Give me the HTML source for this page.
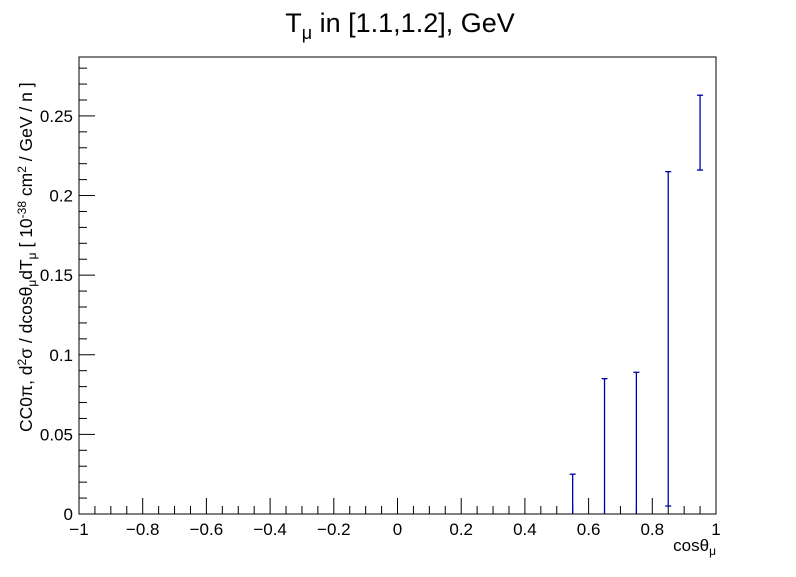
<!DOCTYPE html>
<html><head><meta charset="utf-8"><style>
body{margin:0;background:#fff;}
svg text{font-family:"Liberation Sans",Arial,sans-serif;fill:#000;}
</style></head><body>
<svg id="c" width="796" height="572" xmlns="http://www.w3.org/2000/svg">
<text x="400" y="32" font-size="27" text-anchor="middle">T<tspan font-size="18" dy="7">μ</tspan><tspan dy="-7"> in [1.1,1.2], GeV</tspan></text>
<rect x="79" y="57" width="637" height="457" fill="none" stroke="#000" stroke-width="1"/>
<g id="ax"></g>
<g id="marks"></g>
<text x="716" y="551" font-size="17" text-anchor="end">cosθ<tspan font-size="12" dy="4">μ</tspan></text>
<text transform="translate(32,432) rotate(-90)" font-size="17.5">CC0π, d<tspan font-size="12" dy="-6">2</tspan><tspan dy="6">σ / dcosθ</tspan><tspan font-size="12" dy="4">μ</tspan><tspan dy="-4">dT</tspan><tspan font-size="12" dy="4">μ</tspan><tspan dy="-4"> [ 10</tspan><tspan font-size="12" dy="-6">-38</tspan><tspan dy="6"> cm</tspan><tspan font-size="12" dy="-6">2</tspan><tspan dy="6"> / GeV / n ]</tspan></text>
</svg>
<script>
const binCenters=[0.55,0.65,0.75,0.85,0.95];
const lowValues=[0,0,0,0.005,0.216];
const highValues=[0.025,0.085,0.089,0.215,0.263];
const xTickLabels=["−1","−0.8","−0.6","−0.4","−0.2","0","0.2","0.4","0.6","0.8","1"];
const yTickLabels=["0","0.05","0.1","0.15","0.2","0.25"];
const X0=79,X1=716,Y0=514,Y1=57,XMIN=-1,XMAX=1,YMIN=0,YMAX=0.287;
const sx=v=>X0+(v-XMIN)/(XMAX-XMIN)*(X1-X0);
const sy=v=>Y0-(v-YMIN)/(YMAX-YMIN)*(Y0-Y1);
const NS="http://www.w3.org/2000/svg";
const ax=document.getElementById('ax'),mk=document.getElementById('marks');
function mk_(tag,at,p){const e=document.createElementNS(NS,tag);for(const k in at)e.setAttribute(k,at[k]);p.appendChild(e);return e;}
for(let i=0;i<=40;i++){const v=-1+i*0.05;const x=sx(v);const len=(i%4===0)?16:8;
 const t=mk_('line',{x1:x,x2:x,y1:Y0,y2:Y0-len,stroke:'#000'},ax);
 
 }
xTickLabels.forEach((l,i)=>{const v=-1+i*0.2;const t=mk_('text',{x:sx(v),y:Y0+21,'font-size':17,'text-anchor':'middle'},ax);t.textContent=l;
 
 });
for(let i=0;i<=28;i++){const v=i*0.01;const y=sy(v);const len=(i%5===0)?16:8;
 const t=mk_('line',{x1:X0,x2:X0+len,y1:y,y2:y,stroke:'#000'},ax);
 
 }
yTickLabels.forEach((l,i)=>{const v=i*0.05;const t=mk_('text',{x:X0-6,y:sy(v)+6,'font-size':17,'text-anchor':'end'},ax);t.textContent=l;
 
 });
binCenters.forEach((c,i)=>{const x=sx(c),ya=sy(lowValues[i]),yb=sy(highValues[i]);
 const g=mk_('g',{stroke:'#0000aa','stroke-width':1.3},mk);
 
 
 mk_('line',{x1:x,x2:x,y1:ya,y2:yb},g);
 mk_('line',{x1:x-3,x2:x+3,y1:yb,y2:yb},g);
 if(lowValues[i]>0)mk_('line',{x1:x-3,x2:x+3,y1:ya,y2:ya},g);});
</script>
</body></html>
